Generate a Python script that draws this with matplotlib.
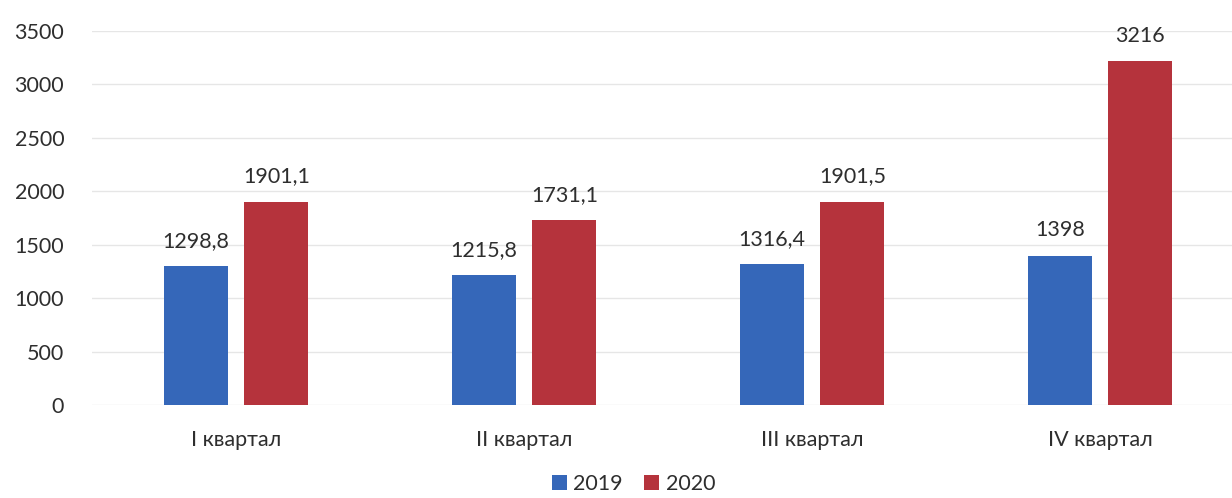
import matplotlib
matplotlib.use('Agg')
import matplotlib.pyplot as plt
import numpy as np

categories = ['I квартал', 'II квартал', 'III квартал', 'IV квартал']
values_2019 = [1298.8, 1215.8, 1316.4, 1398]
values_2020 = [1901.1, 1731.1, 1901.5, 3216]
labels_2019 = ['1298,8', '1215,8', '1316,4', '1398']
labels_2020 = ['1901,1', '1731,1', '1901,5', '3216']

plt.rcParams['font.family'] = ['Lato', 'DejaVu Sans']

fig = plt.figure(figsize=(12.32, 4.98), dpi=100)
ax = fig.add_axes([92 / 1232, 93 / 498, 1 - 92 / 1232, 374 / 498])

x = np.arange(len(categories))
w = 0.222
off = 0.14
b1 = ax.bar(x - off, values_2019, w, color='#3567b9', label='2019', zorder=3)
b2 = ax.bar(x + off, values_2020, w, color='#b5333c', label='2020', zorder=3)

for bars, labs in ((b1, labels_2019), (b2, labels_2020)):
    for b, t in zip(bars, labs):
        ax.annotate(t, (b.get_x() + b.get_width() / 2, b.get_height()),
                    xytext=(0, 11), textcoords='offset points',
                    ha='center', va='bottom', fontsize=15.5, color='#2e2e2e')

ax.set_xlim(-0.5, 3.5 - 12 / 288)
ax.set_ylim(0, 3500)
ax.set_yticks(range(0, 3501, 500))
ax.set_xticks(x)
ax.set_xticklabels(categories)
ax.tick_params(axis='both', length=0, labelsize=15.5, colors='#2e2e2e')
ax.tick_params(axis='y', pad=20)
ax.tick_params(axis='x', pad=18)
ax.grid(axis='y', color='#e6e6e6', linewidth=1, zorder=0)
for s in ax.spines.values():
    s.set_visible(False)

ax.legend(loc='lower center', bbox_to_anchor=(0.475, -0.29), ncol=2, frameon=False,
          fontsize=15.5, handlelength=0.7, handleheight=0.7, handletextpad=0.3,
          columnspacing=1.0, labelcolor='#2e2e2e')

fig.savefig('out.png', dpi=100)
